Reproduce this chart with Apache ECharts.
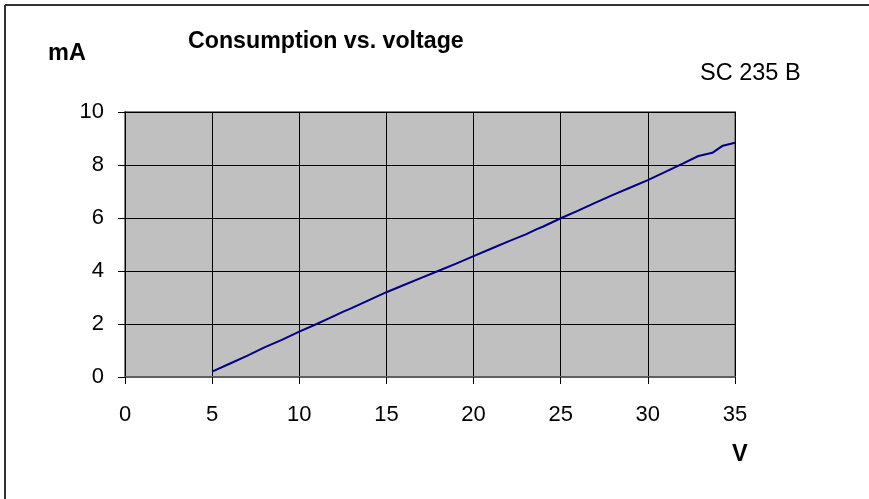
<!DOCTYPE html>
<html>
<head>
<meta charset="utf-8">
<script src="https://cdn.jsdelivr.net/npm/echarts@6/dist/echarts.min.js"></script>
<style>
    html, body { margin: 0; padding: 0; background: #fff; }
    #main { width: 869px; height: 499px; }
</style>
</head>
<body>
<div id="main"></div>
<script>
    // voltage (V) and consumption (mA)
    var volts = [5, 6, 7, 8, 9, 10, 11, 11.7, 12.5, 13, 14, 15, 16, 17, 18, 19, 20, 21, 22, 23, 23.6, 24, 25, 26, 27, 28, 29, 30, 31, 32, 32.9, 33.7, 34.3, 35];
    var milliamps = [0.2, 0.5, 0.8, 1.12, 1.4, 1.71, 2.0, 2.21, 2.46, 2.6, 2.9, 3.2, 3.47, 3.74, 4.01, 4.28, 4.56, 4.84, 5.12, 5.38, 5.57, 5.68, 5.99, 6.28, 6.58, 6.87, 7.15, 7.43, 7.74, 8.05, 8.34, 8.46, 8.73, 8.84];
    var xTicks = [0, 35, 5];   // min, max, step
    var yTicks = [0, 10, 2];

    var points = [];
    for (var i = 0; i < volts.length; i++) {
        points.push([volts[i], milliamps[i]]);
    }

    var myChart = echarts.init(document.getElementById('main'));
    var txt = 'Liberation Sans, Arial, sans-serif';

    var option = {
        backgroundColor: '#fff',
        animation: false,
        title: [
            {text: 'Consumption vs. voltage', left: 188, top: 30, padding: 0,
                textStyle: {fontFamily: txt, fontSize: 23.2, fontWeight: 'bold', color: '#000'}},
            {text: 'mA', left: 48, top: 42, padding: 0,
                textStyle: {fontFamily: txt, fontSize: 23.5, fontWeight: 'bold', color: '#000'}},
            {text: 'SC 235 B', left: 700, top: 62, padding: 0,
                textStyle: {fontFamily: txt, fontSize: 23.5, fontWeight: 'normal', color: '#000'}},
            {text: 'V', left: 732, top: 443, padding: 0,
                textStyle: {fontFamily: txt, fontSize: 23.5, fontWeight: 'bold', color: '#000'}}
        ],
        graphic: [
            {type: 'line', shape: {x1: 5, y1: 5, x2: 869, y2: 5}, style: {stroke: '#333', lineWidth: 2}},
            {type: 'line', shape: {x1: 5, y1: 5, x2: 5, y2: 499}, style: {stroke: '#333', lineWidth: 2}}
        ],
        grid: {
            left: 125, right: 134, top: 112, bottom: 122,
            show: true,
            backgroundColor: '#C0C0C0',
            borderColor: '#808080',
            borderWidth: 2
        },
        xAxis: {
            type: 'value',
            min: xTicks[0], max: xTicks[1], interval: xTicks[2],
            axisLine: {show: true, onZero: false, lineStyle: {color: '#606060', width: 2}},
            axisTick: {show: true, length: 7, lineStyle: {color: '#000'}},
            axisLabel: {margin: 27, fontFamily: txt, fontSize: 22, color: '#000'},
            splitLine: {show: true, lineStyle: {color: '#000', width: 1}}
        },
        yAxis: {
            type: 'value',
            min: yTicks[0], max: yTicks[1], interval: yTicks[2],
            axisLine: {show: true, lineStyle: {color: '#000', width: 1}},
            axisTick: {show: true, length: 7, lineStyle: {color: '#000'}},
            axisLabel: {margin: 21, fontFamily: txt, fontSize: 22, color: '#000'},
            splitLine: {show: true, lineStyle: {color: '#000', width: 1}}
        },
        series: [
            {
                type: 'line',
                data: points,
                showSymbol: false,
                lineStyle: {color: '#000080', width: 2},
                itemStyle: {color: '#000080'}
            }
        ]
    };

    myChart.setOption(option);
</script>
</body>
</html>
